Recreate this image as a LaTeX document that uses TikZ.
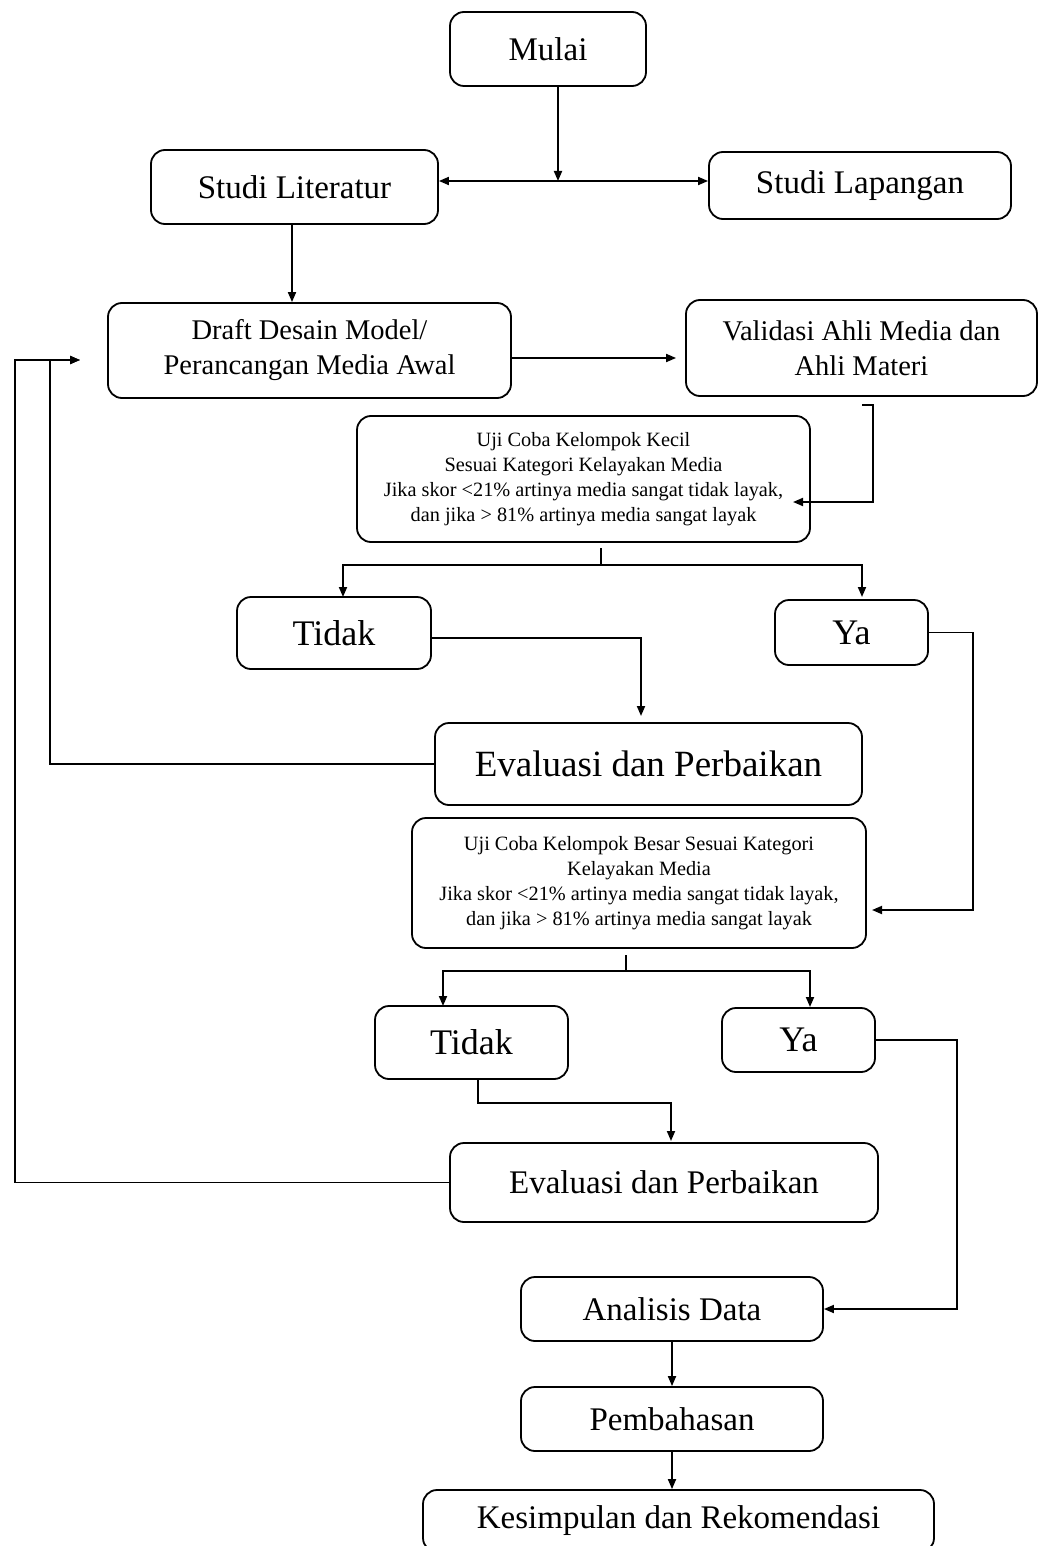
\documentclass[tikz,border=0pt]{standalone}
\usepackage{fontspec}
\setmainfont{Liberation Serif}
\usetikzlibrary{arrows.meta}
\begin{document}
\begin{tikzpicture}[x=1pt,y=-1pt,
  bx/.style 2 args={draw, line width=1.8pt, rounded corners=14pt, inner sep=0pt, align=center,
     minimum width=#1 pt, minimum height=#2 pt},
  big/.style={font=\fontsize{33}{40}\selectfont},
  mid/.style={font=\fontsize{28.5}{35}\selectfont},
  small/.style={font=\fontsize{20.3}{25}\selectfont},
  huge/.style={font=\fontsize{36}{42}\selectfont},
  ln/.style={line width=1.8pt},
  arr/.style={ln, -{Triangle[length=10pt,width=8pt]}},
  arrb/.style={ln, {Triangle[length=10pt,width=8pt]}-{Triangle[length=10pt,width=8pt]}}]
\useasboundingbox (0,0) rectangle (1038,1546);
\clip (0,0) rectangle (1038,1546);

% nodes
\node[bx={196}{74}, big] (mulai) at (548,49) {Mulai};
\node[bx={287}{74}, big] (lit) at (294.5,187) {Studi Literatur};
\node[bx={302}{67}, big] (lap) at (860,185.5) {Studi Lapangan};
\node[bx={403}{95}, mid] (draft) at (309.5,350.5) {Draft Desain Model/\\Perancangan Media Awal};
\node[bx={351}{96}, mid] (valid) at (861.5,348) {Validasi Ahli Media dan\\Ahli Materi};
\node[bx={453}{126}, small] (kecil) at (583.5,479) {Uji Coba Kelompok Kecil\\Sesuai Kategori Kelayakan Media\\Jika skor <21\% artinya media sangat tidak layak,\\dan jika > 81\% artinya media sangat layak};
\node[bx={194}{72}, huge] (tidak1) at (334,633) {Tidak};
\node[bx={153}{65}, huge] (ya1) at (851.5,632.5) {Ya};
\node[bx={427}{82}, font=\fontsize{37}{44}\selectfont] (eval1) at (648.5,764) {Evaluasi dan Perbaikan};
\node[bx={454}{130}, small] (besar) at (639,883) {Uji Coba Kelompok Besar Sesuai Kategori\\Kelayakan Media\\Jika skor <21\% artinya media sangat tidak layak,\\dan jika > 81\% artinya media sangat layak};
\node[bx={193}{73}, huge] (tidak2) at (471.5,1042.5) {Tidak};
\node[bx={153}{64}, huge] (ya2) at (798.5,1040) {Ya};
\node[bx={428}{79}, big] (eval2) at (664,1182.5) {Evaluasi dan Perbaikan};
\node[bx={302}{64}, big] (analisis) at (672,1309) {Analisis Data};
\node[bx={302}{64}, big] (bahas) at (672,1419) {Pembahasan};
\node[bx={511}{62}, big] (simpul) at (678.5,1521) {Kesimpulan dan Rekomendasi};

% coordinates
\coordinate (j1) at (558,181);
\coordinate (m1) at (558,86);
\coordinate (l1) at (292,224);
\coordinate (d1) at (511,358);
\coordinate (v0) at (862,405);
\coordinate (v1) at (873,405);
\coordinate (v2) at (873,502);
\coordinate (v3) at (793,502);
\coordinate (k0) at (601,548);
\coordinate (k1) at (601,565);
\coordinate (t1a) at (343,597);
\coordinate (y1a) at (862,597);
\coordinate (t1b) at (641,638);
\coordinate (t1c) at (641,716);
\coordinate (fb) at (80,360);
\coordinate (fbA) at (50,360);
\coordinate (fbB) at (15,360);
\coordinate (y1b) at (973,632.5);
\coordinate (y1c) at (973,910);
\coordinate (y1d) at (872,910);
\coordinate (b0) at (626,955);
\coordinate (b1) at (626,971);
\coordinate (t2a) at (443,1006);
\coordinate (y2a) at (810,1007);
\coordinate (t2s) at (478,1079);
\coordinate (t2b) at (478,1103);
\coordinate (t2c) at (671,1103);
\coordinate (t2d) at (671,1141);
\coordinate (y2b) at (957,1040);
\coordinate (y2c) at (957,1309);

% connectors
\draw[arr] (m1) -- (j1);
\draw[arrb] (lit.east |- j1) -- (lap.west |- j1);
\draw[arr] (l1) -- (l1 |- draft.north);
\draw[arr, shorten >=9pt] (d1) -- (valid.west |- d1);
\draw[arr] (v0) -- (v1) -- (v2) -- (v3);
\draw[ln] (k0) -- (k1);
\draw[arr] (k1) -| (t1a);
\draw[arr] (k1) -| (y1a);
\draw[arr] (tidak1.east |- t1b) -- (t1b) -- (t1c);
\draw[arr] (eval1.west) -| (fbA) -- (fb);
\draw[arr] (eval2.west) -| (fbB) -- (fb);
\draw[arr] (ya1.east) -- (y1b) -- (y1c) -- (y1d);
\draw[ln] (b0) -- (b1);
\draw[arr] (b1) -| (t2a);
\draw[arr] (b1) -| (y2a);
\draw[arr] (t2s) -- (t2b) -- (t2c) -- (t2d);
\draw[arr] (ya2.east) -- (y2b) -- (y2c) -- (analisis.east);
\draw[arr] (analisis.south) -- (bahas.north);
\draw[arr] (bahas.south) -- (simpul.north -| bahas.south);
\end{tikzpicture}
\end{document}
